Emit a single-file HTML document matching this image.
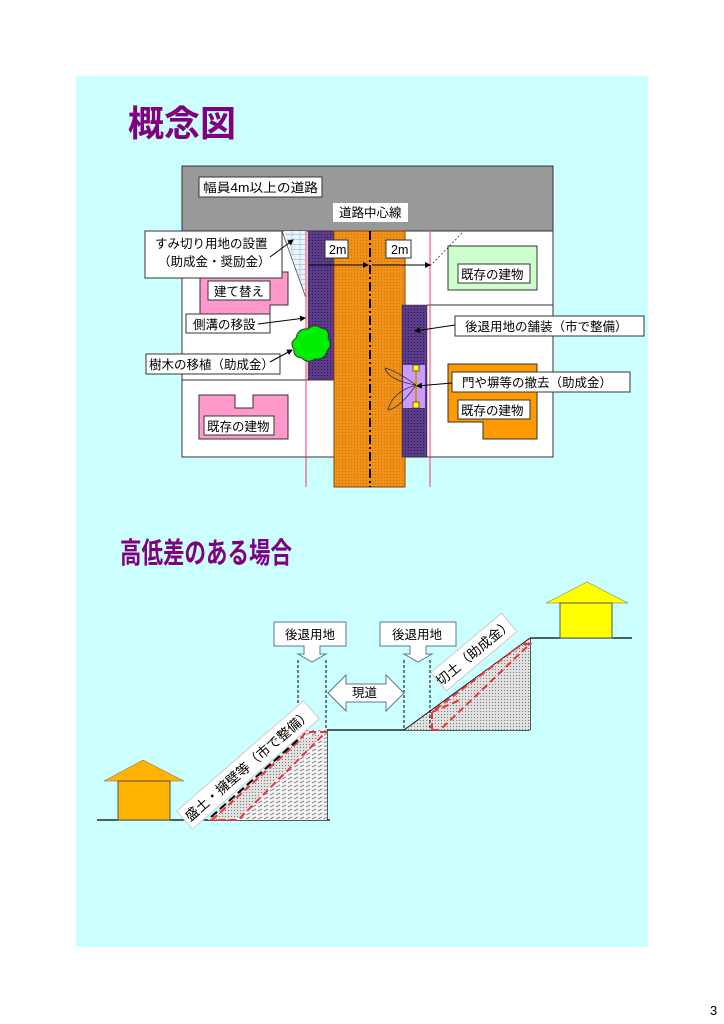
<!DOCTYPE html>
<html><head><meta charset="utf-8"><style>
html,body{margin:0;padding:0;background:#fff;}
svg{display:block;}
text{font-family:"Liberation Sans","Noto Sans CJK JP",sans-serif;}
</style></head><body>
<svg width="724" height="1024" viewBox="0 0 724 1024" xmlns="http://www.w3.org/2000/svg">
<defs>
<pattern id="dots" width="3" height="3" patternUnits="userSpaceOnUse"><rect width="3" height="3" fill="#e0e0e0"/><rect width="1" height="1" fill="#777"/></pattern>
<pattern id="purp" width="3" height="3" patternUnits="userSpaceOnUse"><rect width="3" height="3" fill="#5c3c8a"/><rect width="1" height="1" fill="#2a1a4a"/></pattern>
<pattern id="orng" width="3" height="3" patternUnits="userSpaceOnUse"><rect width="3" height="3" fill="#f0921a"/><rect width="1" height="1" fill="#d07000"/></pattern>
<pattern id="hatch" width="6" height="4" patternUnits="userSpaceOnUse"><rect width="6" height="4" fill="#f4f4f4"/><path d="M0 3 L4 1" stroke="#666" stroke-width="0.7"/></pattern>
<pattern id="brick" width="8" height="5" patternUnits="userSpaceOnUse"><rect width="8" height="5" fill="#e8f4ff"/><path d="M0 4.5H8M4 0V4.5" stroke="#8ab" stroke-width="0.5"/></pattern>
<marker id="ar" markerWidth="6" markerHeight="6" refX="5" refY="3" orient="auto"><path d="M0,0 L6,3 L0,6z" fill="#000"/></marker>
</defs>
<rect x="76" y="76" width="572" height="871" fill="#ccffff"/>
<text x="128" y="136" font-size="36" font-weight="bold" fill="#800080">概念図</text>

<!-- top diagram -->
<rect x="182" y="166" width="371" height="65" fill="#999999" stroke="#333"/>
<rect x="182" y="231" width="371" height="226" fill="#fff" stroke="#333"/>
<path d="M182 380H334M427 305H553" stroke="#333"/>
<path d="M284 231 L306 231 L306 298 Z" fill="url(#brick)"/>
<path d="M306 298 L282 231" stroke="#333" stroke-width="0.7"/>
<path d="M430 266 L464 231" stroke="#333" stroke-width="0.8" stroke-dasharray="2,2"/>
<path d="M200 272H288V305H270V333H200Z" fill="#ff99cc" stroke="#333"/>
<path d="M199 395H235V408H253V395H288V439H199Z" fill="#ff99cc" stroke="#333"/>
<rect x="448" y="246" width="89" height="44" fill="#ccffcc" stroke="#333"/>
<path d="M448 364H537V439H483V422H448Z" fill="#ff9900" stroke="#333"/>
<rect x="308" y="231" width="26" height="149" fill="url(#purp)" stroke="#333" stroke-width="0.5"/>
<rect x="334" y="231" width="71" height="256" fill="url(#orng)" stroke="#8a4500" stroke-width="1"/>
<rect x="402" y="305" width="25" height="152" fill="url(#purp)" stroke="#333" stroke-width="0.5"/>
<rect x="403" y="365" width="22" height="43" fill="#cc99ff"/>
<path d="M370 231V487" stroke="#000" stroke-width="2" stroke-dasharray="9,3,2,3"/>
<path d="M306 231V487M430 231V487" stroke="#ff3366" stroke-width="1"/>
<path d="M416 368V405" stroke="#cc9900" stroke-width="2"/>
<rect x="413" y="365" width="6" height="6" fill="#ffff00" stroke="#333" stroke-width="0.7"/>
<rect x="413" y="402" width="6" height="6" fill="#ffff00" stroke="#333" stroke-width="0.7"/>
<path d="M416 385 Q395 370 385 368 Q388 380 416 385 M416 385 Q392 392 388 410 Q400 408 416 385" fill="none" stroke="#333" stroke-width="0.8"/>
<path d="M296 338 q2-10 12-9 q6-6 13-1 q9 1 7 10 q5 7-1 13 q-2 9-12 8 q-8 5-13-1 q-9-1-8-9 q-5-6 2-11z" fill="#00ee00" stroke="#333"/>
<path d="M309 265H368" stroke="#000" marker-end="url(#ar)"/>
<path d="M372 265H430" stroke="#000" marker-end="url(#ar)"/>
<g font-size="12.5" fill="#000">
<rect x="199" y="177" width="123" height="20" fill="#fff" stroke="#333"/><text x="203" y="192" textLength="115" lengthAdjust="spacingAndGlyphs">幅員4m以上の道路</text>
<rect x="333" y="203" width="75" height="19" fill="#fff"/><text x="339" y="217">道路中心線</text>
<rect x="325" y="240" width="23" height="18" fill="#fff" stroke="#333"/><text x="329" y="254">2m</text>
<rect x="386" y="240" width="25" height="18" fill="#fff" stroke="#333"/><text x="391" y="254">2m</text>
<rect x="145" y="231" width="137" height="47" fill="#fff" stroke="#333"/><text x="155" y="248">すみ切り用地の設置</text><text x="158" y="266">（助成金・奨励金）</text>
<path d="M270 257L293 240" stroke="#000" marker-end="url(#ar)"/>
<rect x="208" y="281" width="62" height="19" fill="#fff" stroke="#333"/><text x="214" y="296">建て替え</text>
<rect x="186" y="314" width="84" height="19" fill="#fff" stroke="#333"/><text x="193" y="329">側溝の移設</text>
<path d="M258 324L305 318" stroke="#000" marker-end="url(#ar)"/>
<rect x="146" y="354" width="134" height="20" fill="#fff" stroke="#333"/><text x="149" y="369">樹木の移植（助成金）</text>
<path d="M270 362L292 350" stroke="#000" marker-end="url(#ar)"/>
<rect x="204" y="416" width="70" height="19" fill="#fff" stroke="#333"/><text x="207" y="431">既存の建物</text>
<rect x="458" y="264" width="72" height="19" fill="#fff" stroke="#333"/><text x="461" y="279">既存の建物</text>
<rect x="455" y="316" width="189" height="20" fill="#fff" stroke="#333"/><text x="465" y="331">後退用地の舗装（市で整備）</text>
<path d="M455 325L415 331" stroke="#000" marker-end="url(#ar)"/>
<rect x="452" y="372" width="178" height="20" fill="#fff" stroke="#333"/><text x="462" y="387">門や塀等の撤去（助成金）</text>
<path d="M452 383L417 386" stroke="#000" marker-end="url(#ar)"/>
<rect x="458" y="400" width="72" height="19" fill="#fff" stroke="#333"/><text x="461" y="415">既存の建物</text>
</g>

<text x="120" y="563" font-size="29" font-weight="bold" fill="#800080" textLength="172" lengthAdjust="spacingAndGlyphs">高低差のある場合</text>

<!-- bottom diagram -->
<path d="M97 820H330M327 730H530M530 638H632" stroke="#000" stroke-width="1.3" fill="none"/>
<path d="M327 730V820M530 638V730" stroke="#000" stroke-width="1.3"/>
<path d="M208 820L298 740L300 730H327V820Z" fill="url(#hatch)"/>
<path d="M208 820L298 740L324 732L236 820Z" fill="url(#dots)"/>
<path d="M404 730L530 638V730Z" fill="url(#dots)"/>
<path d="M404 730L530 638" stroke="#000" stroke-width="0.8"/>
<g stroke="#e33" stroke-width="2" stroke-dasharray="7,4" fill="none">
<path d="M212 820L298 742L306 732H326L238 820Z"/>
<path d="M432 730L432 712L522 644H530L440 730Z"/>
<path d="M432 712L460 700"/>
</g>
<g stroke="#000" stroke-width="2" stroke-dasharray="8,4">
<path d="M206 812L296 732"/><path d="M211 817L301 737"/>
</g>
<path d="M298 660V730M326 660V730M404 660V730M430 660V730" stroke="#000" stroke-dasharray="3,2"/>
<path d="M104 781L143 760L184 781Z" fill="#ffb300" stroke="#666" stroke-width="0.5"/>
<rect x="118" y="781" width="52" height="39" fill="#ffb300" stroke="#555"/>
<path d="M546 603L587 582L628 603Z" fill="#ffff00" stroke="#666" stroke-width="0.5"/>
<rect x="560" y="603" width="52" height="35" fill="#ffff00" stroke="#555"/>
<g font-size="12.5">
<path d="M274 622H346V646H320V654H326L312 662L298 654H304V646H274Z" fill="#fff" stroke="#5a7a8a"/>
<text x="285" y="639">後退用地</text>
<path d="M380 622H456V646H426V654H432L418 662L404 654H410V646H380Z" fill="#fff" stroke="#5a7a8a"/>
<text x="392" y="639">後退用地</text>
<path d="M328 693L346 675V684H386V675L404 693L386 711V702H346V711Z" fill="#fff" stroke="#5a7a8a"/>
<text x="352" y="697">現道</text>
<g transform="translate(248,765) rotate(-41)"><rect x="-84" y="-12" width="168" height="24" fill="#fff" stroke="#ccc"/><text x="0" y="5" text-anchor="middle" font-size="13.5">盛土・擁壁等（市で整備）</text></g>
<g transform="translate(474,652) rotate(-40)"><rect x="-46" y="-12" width="92" height="24" fill="#fff" stroke="#ccc"/><text x="0" y="5" text-anchor="middle" font-size="13.5">切土（助成金）</text></g>
</g>
<text x="710" y="1015" font-size="13">3</text>
</svg>
</body></html>
